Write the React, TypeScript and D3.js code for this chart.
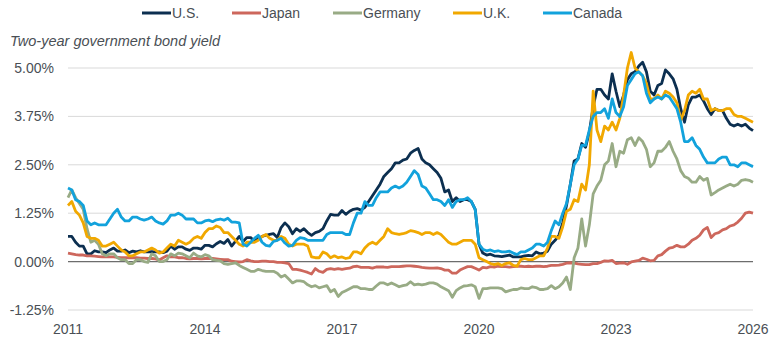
import React from 'react';
import * as d3 from 'd3';

// monthly readings, index 0 sits on the 2011 tick and the last one on the 2026 tick
const us = [
  0.65, 0.65, 0.5, 0.4, 0.4, 0.2, 0.2, 0.28, 0.25, 0.25,
  0.23, 0.3, 0.35, 0.27, 0.27, 0.3, 0.23, 0.27, 0.25, 0.28, 0.25, 0.25,
  0.26, 0.25, 0.25, 0.23, 0.27, 0.4, 0.32, 0.38, 0.38, 0.32, 0.29, 0.35,
  0.35, 0.32, 0.42, 0.42, 0.38, 0.46, 0.52, 0.47, 0.57, 0.4, 0.52, 0.65,
  0.52, 0.62, 0.62, 0.52, 0.6, 0.65, 0.68, 0.7, 0.72, 0.62, 0.88, 1.0,
  0.9, 0.72, 0.85, 0.78, 0.85, 0.75, 0.68, 0.75, 0.78, 0.85, 1.05, 1.22,
  1.2, 1.2, 1.32, 1.22, 1.3, 1.35, 1.37, 1.33, 1.4, 1.55, 1.7, 1.85,
  2.0, 2.2, 2.3, 2.4, 2.55, 2.55, 2.62, 2.65, 2.8, 2.87, 2.92, 2.65,
  2.55, 2.5, 2.4, 2.3, 2.15, 1.8, 1.85, 1.55, 1.65, 1.55, 1.6, 1.6,
  1.55, 1.35, 0.45, 0.22, 0.17, 0.19, 0.15, 0.14, 0.13, 0.15, 0.17, 0.12,
  0.12, 0.12, 0.15, 0.16, 0.15, 0.25, 0.2, 0.22, 0.27, 0.45, 0.55, 0.68,
  1.0, 1.45, 2.0, 2.6, 2.65, 3.05, 2.95, 3.35, 4.0, 4.45, 4.45, 4.3,
  4.2, 4.85, 4.4, 4.0, 4.3, 4.7, 4.85, 4.9, 5.05, 5.15, 4.9, 4.4,
  4.3, 4.55, 4.6, 4.95, 4.85, 4.72, 4.45, 3.95, 3.6, 4.05, 4.25, 4.25,
  4.3, 4.15, 3.95, 3.8, 3.95, 3.9, 3.9, 3.7, 3.55, 3.5, 3.55, 3.5,
  3.55, 3.45, 3.38,
];

const japan = [
  0.22, 0.2, 0.18, 0.17, 0.17, 0.15, 0.15, 0.14, 0.13, 0.12,
  0.12, 0.12, 0.12, 0.11, 0.1, 0.1, 0.1, 0.1, 0.1, 0.09, 0.09, 0.08,
  0.08, 0.07, 0.04, 0.1, 0.15, 0.12, 0.12, 0.1, 0.1, 0.08, 0.07, 0.08,
  0.08, 0.07, 0.08, 0.08, 0.08, 0.07, 0.06, 0.05, 0.05, 0.01, 0.0, -0.01,
  0.0, 0.05, 0.02, 0.0, 0.0, 0.01, 0.01, 0.0, 0.0, -0.02, -0.02, -0.03,
  -0.05, -0.2, -0.2, -0.22, -0.25, -0.28, -0.32, -0.18, -0.25, -0.28, -0.2, -0.18,
  -0.2, -0.18, -0.2, -0.18, -0.17, -0.13, -0.12, -0.15, -0.15, -0.15, -0.17, -0.14,
  -0.14, -0.14, -0.15, -0.13, -0.13, -0.13, -0.12, -0.11, -0.11, -0.12, -0.13, -0.15,
  -0.16, -0.17, -0.17, -0.16, -0.18, -0.22, -0.22, -0.3, -0.3, -0.22, -0.17, -0.13,
  -0.13, -0.17, -0.22, -0.15, -0.16, -0.13, -0.14, -0.12, -0.13, -0.13, -0.14, -0.13,
  -0.12, -0.12, -0.13, -0.12, -0.13, -0.12, -0.12, -0.13, -0.12, -0.1, -0.1, -0.09,
  -0.07, -0.04, -0.03, -0.04, -0.06, -0.07, -0.08, -0.08, -0.05, -0.05, -0.02, 0.02,
  0.01, 0.03, -0.05, -0.04, -0.03, -0.07, -0.01, 0.01, 0.03, 0.09, 0.06, 0.02,
  0.03, 0.15, 0.18, 0.27, 0.35, 0.37, 0.42, 0.38, 0.38, 0.45, 0.55, 0.6,
  0.68, 0.82, 0.88, 0.62, 0.72, 0.75, 0.82, 0.85, 0.92, 0.95, 1.02, 1.12,
  1.25, 1.28, 1.25,
];

const germany = [
  1.65, 1.85, 1.65, 1.5, 1.35, 0.85, 0.5, 0.55, 0.45, 0.2,
  0.15, 0.2, 0.2, 0.1, 0.05, 0.05, -0.05, -0.05, 0.05, 0.05, 0.0, -0.02,
  0.2, 0.15, 0.0, 0.0, 0.05, 0.2, 0.15, 0.22, 0.2, 0.15, 0.1, 0.22,
  0.15, 0.12, 0.18, 0.15, 0.05, 0.03, 0.02, -0.05, -0.07, -0.05, -0.03, -0.1,
  -0.15, -0.2, -0.25, -0.25, -0.2, -0.23, -0.25, -0.25, -0.25, -0.3, -0.4, -0.35,
  -0.45, -0.55, -0.5, -0.5, -0.52, -0.6, -0.65, -0.62, -0.68, -0.65, -0.62, -0.78,
  -0.72, -0.9, -0.8, -0.75, -0.7, -0.65, -0.65, -0.7, -0.7, -0.72, -0.72, -0.63,
  -0.55, -0.55, -0.6, -0.55, -0.6, -0.65, -0.62, -0.6, -0.52, -0.6, -0.58, -0.6,
  -0.58, -0.55, -0.55, -0.58, -0.65, -0.7, -0.75, -0.92, -0.75, -0.68, -0.63, -0.62,
  -0.6, -0.65, -0.95, -0.7, -0.7, -0.68, -0.68, -0.68, -0.7, -0.78, -0.75, -0.72,
  -0.72, -0.68, -0.7, -0.7, -0.65, -0.67, -0.72, -0.72, -0.7, -0.62, -0.7, -0.65,
  -0.55, -0.4, -0.72, 0.1, 0.35, 1.1, 0.4, 0.95, 1.75, 1.95, 2.1, 2.5,
  2.6, 3.05, 2.45, 2.85, 2.8, 3.15, 3.2, 3.0, 3.2, 3.1, 2.9, 2.45,
  2.55, 2.85, 2.85, 2.95, 3.1, 2.85, 2.65, 2.35, 2.2, 2.15, 2.05, 2.05,
  2.2, 2.1, 2.15, 1.72, 1.78, 1.85, 1.9, 1.95, 2.0, 1.95, 2.0, 2.1,
  2.12, 2.1, 2.05,
];

const uk = [
  1.45, 1.55, 1.3, 1.2, 1.0, 0.65, 0.6, 0.6, 0.55, 0.4,
  0.4, 0.45, 0.5, 0.4, 0.3, 0.25, 0.15, 0.15, 0.2, 0.25, 0.25, 0.3,
  0.35, 0.3, 0.22, 0.25, 0.35, 0.45, 0.4, 0.55, 0.5, 0.45, 0.5, 0.6,
  0.65, 0.6, 0.75, 0.85, 0.85, 0.92, 0.88, 0.75, 0.75, 0.65, 0.55, 0.45,
  0.4, 0.5, 0.5, 0.5, 0.55, 0.65, 0.7, 0.6, 0.55, 0.55, 0.65, 0.6,
  0.45, 0.4, 0.45, 0.45, 0.45, 0.4, 0.12, 0.1, 0.1, 0.25, 0.2, 0.1,
  0.15, 0.1, 0.12, 0.08, 0.1, 0.25, 0.25, 0.2, 0.35, 0.45, 0.5, 0.45,
  0.55, 0.65, 0.85, 0.75, 0.72, 0.7, 0.72, 0.75, 0.8, 0.78, 0.75, 0.7,
  0.75, 0.75, 0.7, 0.75, 0.7, 0.6, 0.5, 0.45, 0.45, 0.5, 0.55, 0.55,
  0.55, 0.45, 0.1, 0.05, 0.0, -0.05, -0.08, -0.05, -0.1, -0.05, -0.03, -0.1,
  -0.12, 0.05, 0.08, 0.05, 0.05, 0.1, 0.15, 0.15, 0.35, 0.65, 0.65, 0.6,
  0.9, 1.3, 1.35, 1.6, 1.55, 2.0, 1.85, 2.5, 4.4, 3.4, 3.1, 3.5,
  3.4, 3.6, 3.4, 3.7, 4.3, 5.0, 5.4, 5.0, 4.9, 4.8, 4.6, 4.2,
  4.2, 4.3, 4.2, 4.4, 4.35, 4.25, 4.1, 3.65, 3.9, 4.3, 4.4, 4.35,
  4.45, 4.2, 4.2, 3.9, 3.95, 3.9, 3.9, 3.95, 3.95, 3.8, 3.75, 3.75,
  3.7, 3.65, 3.6,
];

const canada = [
  1.9, 1.85, 1.6, 1.55, 1.45, 1.05, 0.95, 1.0, 0.95, 0.95,
  0.95, 1.1, 1.25, 1.35, 1.15, 1.05, 1.05, 1.15, 1.15, 1.1, 1.07, 1.1,
  1.15, 1.05, 1.0, 0.97, 1.05, 1.2, 1.2, 1.25, 1.2, 1.1, 1.1, 1.1,
  1.0, 1.0, 1.05, 1.07, 1.03, 1.08, 1.1, 1.07, 1.12, 1.02, 1.02, 1.0,
  0.45, 0.4, 0.5, 0.6, 0.68, 0.5, 0.42, 0.4, 0.52, 0.55, 0.6, 0.48,
  0.4, 0.42, 0.55, 0.62, 0.6, 0.55, 0.55, 0.55, 0.55, 0.55, 0.7, 0.75,
  0.75, 0.75, 0.75, 0.7, 0.7, 1.0, 1.25, 1.25, 1.55, 1.45, 1.45, 1.65,
  1.8, 1.8, 1.8, 1.9, 1.95, 1.9, 1.95, 2.05, 2.2, 2.35, 2.25, 1.95,
  1.9, 1.75, 1.6, 1.6, 1.55, 1.45, 1.6, 1.4, 1.55, 1.6, 1.6, 1.65,
  1.55, 1.35, 0.45, 0.32, 0.28, 0.3, 0.26, 0.28, 0.25, 0.25, 0.27, 0.22,
  0.18, 0.25, 0.25, 0.3, 0.35, 0.45, 0.45, 0.4, 0.5, 0.8, 1.05, 0.95,
  1.25, 1.5, 2.0, 2.5, 2.65, 3.0, 3.0, 3.4, 3.75, 3.85, 3.85, 3.95,
  3.7, 4.2, 3.85, 3.75, 4.0, 4.55, 4.7, 4.85, 4.9, 4.8, 4.35, 4.1,
  4.2, 4.25, 4.2, 4.3, 4.25, 4.1, 3.95, 3.6, 3.1, 3.1, 3.2, 3.0,
  2.9, 2.7, 2.55, 2.55, 2.55, 2.65, 2.7, 2.7, 2.5, 2.5, 2.45, 2.55,
  2.55, 2.5, 2.45,
];

const seriesNames = ['U.S.', 'Japan', 'Germany', 'U.K.', 'Canada'];
const seriesColors = ['#0c2f50', '#cd675c', '#98ab85', '#f1a800', '#12a2dc'];
const seriesData = [us, japan, germany, uk, canada];

const yTicks = [-1.25, 0, 1.25, 2.5, 3.75, 5];
const xTicks = [2011, 2014, 2017, 2020, 2023, 2026];

const App = () => {
  const width = 780;
  const height = 350;
  const left = 68;
  const right = 753;

  const x = d3.scaleLinear().domain([2011, 2026]).range([left, right]);
  const y = d3.scaleLinear().domain([-1.25, 5]).range([310, 68]);

  const line = d3.line<number>()
    .x((d, i) => x(2011 + i / 12))
    .y(d => y(d));

  const legendX = [142, 232, 333, 453, 543];
  const font = '"Liberation Sans", Arial, sans-serif';

  return (
    <svg width={width} height={height} style={{ position: 'absolute', left: 0, top: 0 }}>
      {/* legend */}
      {seriesNames.map((name, i) => (
        <g key={name}>
          <line x1={legendX[i]} x2={legendX[i] + 29} y1={13} y2={13} stroke={seriesColors[i]} strokeWidth={3} />
          <text x={legendX[i] + 30} y={18} fontSize={14} fill="#4a4f55" fontFamily={font}>{name}</text>
        </g>
      ))}

      <text x={10} y={46} fontSize={14.5} fontStyle="italic" fill="#4a4f55" fontFamily={font}>
        Two-year government bond yield
      </text>

      {/* grid + y labels */}
      {yTicks.map(t => (
        <g key={t}>
          <line x1={left} x2={right} y1={y(t)} y2={y(t)}
            stroke={t === 0 ? '#6d6d6d' : '#d9d9d9'} strokeWidth={t === 0 ? 1.3 : 1} />
          <text x={54} y={y(t) + 5} fontSize={14} textAnchor="end" fill="#4a4f55" fontFamily={font}>
            {t.toFixed(2) + '%'}
          </text>
        </g>
      ))}

      {xTicks.map(t => (
        <text key={t} x={x(t)} y={334} fontSize={14} textAnchor="middle" fill="#4a4f55" fontFamily={font}>{t}</text>
      ))}

      {seriesData.map((d, i) => (
        <path key={seriesNames[i]} d={line(d) || ''} fill="none" stroke={seriesColors[i]} strokeWidth={2.8} strokeLinejoin="round" />
      ))}
    </svg>
  );
};

export default App;
